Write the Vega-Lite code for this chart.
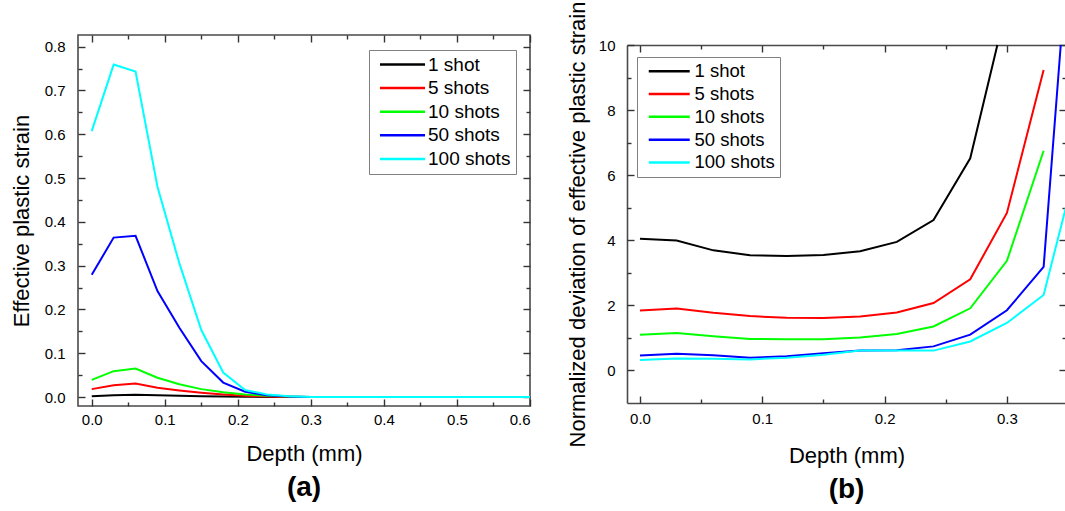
{
  "$schema": "https://vega.github.io/schema/vega-lite/v6.json",
  "padding": {"left": 9, "top": 1, "right": 0, "bottom": 0},
  "spacing": 34,
  "datasets": {
    "a": [
      {"d":0,"s":"1 shot","v":0.002},{"d":0.03,"s":"1 shot","v":0.004},{"d":0.06,"s":"1 shot","v":0.005},{"d":0.09,"s":"1 shot","v":0.004},{"d":0.12,"s":"1 shot","v":0.003},{"d":0.15,"s":"1 shot","v":0.002},{"d":0.18,"s":"1 shot","v":0.001},{"d":0.21,"s":"1 shot","v":0.0005},{"d":0.24,"s":"1 shot","v":0.0002},{"d":0.27,"s":"1 shot","v":0},{"d":0.3,"s":"1 shot","v":0},{"d":0.33,"s":"1 shot","v":0},{"d":0.36,"s":"1 shot","v":0},{"d":0.39,"s":"1 shot","v":0},{"d":0.42,"s":"1 shot","v":0},{"d":0.45,"s":"1 shot","v":0},{"d":0.48,"s":"1 shot","v":0},{"d":0.51,"s":"1 shot","v":0},{"d":0.54,"s":"1 shot","v":0},{"d":0.57,"s":"1 shot","v":0},{"d":0.6,"s":"1 shot","v":0},
      {"d":0,"s":"5 shots","v":0.018},{"d":0.03,"s":"5 shots","v":0.027},{"d":0.06,"s":"5 shots","v":0.031},{"d":0.09,"s":"5 shots","v":0.021},{"d":0.12,"s":"5 shots","v":0.015},{"d":0.15,"s":"5 shots","v":0.01},{"d":0.18,"s":"5 shots","v":0.006},{"d":0.21,"s":"5 shots","v":0.003},{"d":0.24,"s":"5 shots","v":0.001},{"d":0.27,"s":"5 shots","v":0.0003},{"d":0.3,"s":"5 shots","v":0},{"d":0.33,"s":"5 shots","v":0},{"d":0.36,"s":"5 shots","v":0},{"d":0.39,"s":"5 shots","v":0},{"d":0.42,"s":"5 shots","v":0},{"d":0.45,"s":"5 shots","v":0},{"d":0.48,"s":"5 shots","v":0},{"d":0.51,"s":"5 shots","v":0},{"d":0.54,"s":"5 shots","v":0},{"d":0.57,"s":"5 shots","v":0},{"d":0.6,"s":"5 shots","v":0},
      {"d":0,"s":"10 shots","v":0.039},{"d":0.03,"s":"10 shots","v":0.059},{"d":0.06,"s":"10 shots","v":0.065},{"d":0.09,"s":"10 shots","v":0.044},{"d":0.12,"s":"10 shots","v":0.029},{"d":0.15,"s":"10 shots","v":0.018},{"d":0.18,"s":"10 shots","v":0.011},{"d":0.21,"s":"10 shots","v":0.006},{"d":0.24,"s":"10 shots","v":0.003},{"d":0.27,"s":"10 shots","v":0.001},{"d":0.3,"s":"10 shots","v":0},{"d":0.33,"s":"10 shots","v":0},{"d":0.36,"s":"10 shots","v":0},{"d":0.39,"s":"10 shots","v":0},{"d":0.42,"s":"10 shots","v":0},{"d":0.45,"s":"10 shots","v":0},{"d":0.48,"s":"10 shots","v":0},{"d":0.51,"s":"10 shots","v":0},{"d":0.54,"s":"10 shots","v":0},{"d":0.57,"s":"10 shots","v":0},{"d":0.6,"s":"10 shots","v":0},
      {"d":0,"s":"50 shots","v":0.279},{"d":0.03,"s":"50 shots","v":0.364},{"d":0.06,"s":"50 shots","v":0.368},{"d":0.09,"s":"50 shots","v":0.242},{"d":0.12,"s":"50 shots","v":0.158},{"d":0.15,"s":"50 shots","v":0.082},{"d":0.18,"s":"50 shots","v":0.033},{"d":0.21,"s":"50 shots","v":0.012},{"d":0.24,"s":"50 shots","v":0.004},{"d":0.27,"s":"50 shots","v":0.001},{"d":0.3,"s":"50 shots","v":0},{"d":0.33,"s":"50 shots","v":0},{"d":0.36,"s":"50 shots","v":0},{"d":0.39,"s":"50 shots","v":0},{"d":0.42,"s":"50 shots","v":0},{"d":0.45,"s":"50 shots","v":0},{"d":0.48,"s":"50 shots","v":0},{"d":0.51,"s":"50 shots","v":0},{"d":0.54,"s":"50 shots","v":0},{"d":0.57,"s":"50 shots","v":0},{"d":0.6,"s":"50 shots","v":0},
      {"d":0,"s":"100 shots","v":0.607},{"d":0.03,"s":"100 shots","v":0.759},{"d":0.06,"s":"100 shots","v":0.743},{"d":0.09,"s":"100 shots","v":0.48},{"d":0.12,"s":"100 shots","v":0.305},{"d":0.15,"s":"100 shots","v":0.153},{"d":0.18,"s":"100 shots","v":0.056},{"d":0.21,"s":"100 shots","v":0.016},{"d":0.24,"s":"100 shots","v":0.006},{"d":0.27,"s":"100 shots","v":0.002},{"d":0.3,"s":"100 shots","v":0},{"d":0.33,"s":"100 shots","v":0},{"d":0.36,"s":"100 shots","v":0},{"d":0.39,"s":"100 shots","v":0},{"d":0.42,"s":"100 shots","v":0},{"d":0.45,"s":"100 shots","v":0},{"d":0.48,"s":"100 shots","v":0},{"d":0.51,"s":"100 shots","v":0},{"d":0.54,"s":"100 shots","v":0},{"d":0.57,"s":"100 shots","v":0},{"d":0.6,"s":"100 shots","v":0}
    ],
    "b": [
      {"d":0,"s":"1 shot","v":4.05},{"d":0.03,"s":"1 shot","v":3.99},{"d":0.06,"s":"1 shot","v":3.69},{"d":0.09,"s":"1 shot","v":3.54},{"d":0.12,"s":"1 shot","v":3.52},{"d":0.15,"s":"1 shot","v":3.55},{"d":0.18,"s":"1 shot","v":3.66},{"d":0.21,"s":"1 shot","v":3.95},{"d":0.24,"s":"1 shot","v":4.62},{"d":0.27,"s":"1 shot","v":6.52},{"d":0.2922,"s":"1 shot","v":10},
      {"d":0,"s":"5 shots","v":1.84},{"d":0.03,"s":"5 shots","v":1.9},{"d":0.06,"s":"5 shots","v":1.77},{"d":0.09,"s":"5 shots","v":1.67},{"d":0.12,"s":"5 shots","v":1.62},{"d":0.15,"s":"5 shots","v":1.61},{"d":0.18,"s":"5 shots","v":1.66},{"d":0.21,"s":"5 shots","v":1.78},{"d":0.24,"s":"5 shots","v":2.07},{"d":0.27,"s":"5 shots","v":2.8},{"d":0.3,"s":"5 shots","v":4.84},{"d":0.33,"s":"5 shots","v":9.23},
      {"d":0,"s":"10 shots","v":1.1},{"d":0.03,"s":"10 shots","v":1.15},{"d":0.06,"s":"10 shots","v":1.05},{"d":0.09,"s":"10 shots","v":0.97},{"d":0.12,"s":"10 shots","v":0.96},{"d":0.15,"s":"10 shots","v":0.96},{"d":0.18,"s":"10 shots","v":1.01},{"d":0.21,"s":"10 shots","v":1.12},{"d":0.24,"s":"10 shots","v":1.35},{"d":0.27,"s":"10 shots","v":1.91},{"d":0.3,"s":"10 shots","v":3.37},{"d":0.33,"s":"10 shots","v":6.75},
      {"d":0,"s":"50 shots","v":0.46},{"d":0.03,"s":"50 shots","v":0.51},{"d":0.06,"s":"50 shots","v":0.47},{"d":0.09,"s":"50 shots","v":0.39},{"d":0.12,"s":"50 shots","v":0.44},{"d":0.15,"s":"50 shots","v":0.53},{"d":0.18,"s":"50 shots","v":0.61},{"d":0.21,"s":"50 shots","v":0.62},{"d":0.24,"s":"50 shots","v":0.74},{"d":0.27,"s":"50 shots","v":1.1},{"d":0.3,"s":"50 shots","v":1.85},{"d":0.33,"s":"50 shots","v":3.18},{"d":0.344,"s":"50 shots","v":10},
      {"d":0,"s":"100 shots","v":0.32},{"d":0.03,"s":"100 shots","v":0.37},{"d":0.06,"s":"100 shots","v":0.36},{"d":0.09,"s":"100 shots","v":0.34},{"d":0.12,"s":"100 shots","v":0.39},{"d":0.15,"s":"100 shots","v":0.48},{"d":0.18,"s":"100 shots","v":0.61},{"d":0.21,"s":"100 shots","v":0.61},{"d":0.24,"s":"100 shots","v":0.61},{"d":0.27,"s":"100 shots","v":0.89},{"d":0.3,"s":"100 shots","v":1.46},{"d":0.33,"s":"100 shots","v":2.32},{"d":0.36,"s":"100 shots","v":6.75}
    ]
  },
  "config": {
    "font": "Liberation Sans",
    "view": {"stroke": "#4a4a4a", "strokeWidth": 1.6},
    "axis": {"grid": false, "labelColor": "#000000", "titleColor": "#000000", "tickColor": "#333333", "tickWidth": 1.4, "domainColor": "#4a4a4a", "domainWidth": 1.6, "labelFontSize": 15, "titleFontSize": 22, "titleFontWeight": "normal", "labelFont": "Liberation Sans", "titleFont": "Liberation Sans"},
    "legend": {"labelFont": "Liberation Sans", "labelColor": "#000000"},
    "title": {"font": "Liberation Sans", "color": "#000000"}
  },
  "resolve": {"scale": {"color": "independent"}, "legend": {"color": "independent"}},
  "hconcat": [
    {
      "width": 452,
      "height": 371,
      "data": {"name": "a"},
      "title": {"text": "(a)", "orient": "bottom", "fontSize": 28, "fontWeight": "bold", "offset": 10},
      "resolve": {"axis": {"x": "independent", "y": "independent"}},
      "layer": [
        {
          "mark": {"type": "line", "strokeWidth": 2, "clip": true},
          "encoding": {
            "x": {"field": "d", "type": "quantitative", "scale": {"domain": [-0.0188, 0.6], "nice": false, "zero": false},
              "axis": {"orient": "bottom", "values": [0, 0.1, 0.2, 0.3, 0.4, 0.5, 0.6], "format": ".1f", "ticks": false, "domain": false, "labelFontSize": 15, "labelPadding": 6, "title": "Depth (mm)", "titlePadding": 16}},
            "y": {"field": "v", "type": "quantitative", "scale": {"domain": [-0.0205, 0.8265], "nice": false, "zero": false},
              "axis": {"orient": "left", "values": [0, 0.1, 0.2, 0.3, 0.4, 0.5, 0.6, 0.7, 0.8], "format": ".1f", "ticks": false, "domain": false, "labelFontSize": 15, "labelPadding": 13, "title": "Effective plastic strain", "titlePadding": 11}},
            "color": {"field": "s", "type": "nominal",
              "scale": {"domain": ["1 shot", "5 shots", "10 shots", "50 shots", "100 shots"], "range": ["#000000", "#ff0000", "#00ff00", "#0000ff", "#00ffff"]},
              "legend": {"orient": "none", "legendX": 291, "legendY": 15, "title": null, "labelFontSize": 19, "symbolType": "M-4,0H4", "symbolSize": 127, "symbolStrokeWidth": 2.5, "rowPadding": 3.6, "padding": 5, "strokeColor": "#808080", "fillColor": "#ffffff", "symbolOffset": 19, "labelOffset": 16}}
          }
        },
        {
          "mark": {"type": "point", "opacity": 0, "clip": true},
          "encoding": {
            "x": {"field": "d", "type": "quantitative", "axis": {"orient": "bottom", "values": [0, 0.1, 0.2, 0.3, 0.4, 0.5, 0.6], "tickSize": -7, "labels": false, "domain": false, "title": null}},
            "y": {"field": "v", "type": "quantitative", "axis": {"orient": "left", "values": [0, 0.1, 0.2, 0.3, 0.4, 0.5, 0.6, 0.7, 0.8], "tickSize": -7, "labels": false, "domain": false, "title": null}}
          }
        },
        {
          "mark": {"type": "point", "opacity": 0, "clip": true},
          "encoding": {
            "x": {"field": "d", "type": "quantitative", "axis": {"orient": "bottom", "values": [0.05, 0.15, 0.25, 0.35, 0.45, 0.55], "tickSize": -4, "labels": false, "domain": false, "title": null}},
            "y": {"field": "v", "type": "quantitative", "axis": {"orient": "left", "values": [0.05, 0.15, 0.25, 0.35, 0.45, 0.55, 0.65, 0.75], "tickSize": -4, "labels": false, "domain": false, "title": null}}
          }
        },
        {
          "mark": {"type": "point", "opacity": 0, "clip": true},
          "encoding": {
            "x": {"field": "d", "type": "quantitative", "axis": {"orient": "top", "values": [0, 0.1, 0.2, 0.3, 0.4, 0.5, 0.6], "tickSize": -7, "labels": false, "domain": false, "title": null}},
            "y": {"field": "v", "type": "quantitative", "axis": {"orient": "right", "values": [0, 0.1, 0.2, 0.3, 0.4, 0.5, 0.6, 0.7, 0.8], "tickSize": -7, "labels": false, "domain": false, "title": null}}
          }
        },
        {
          "mark": {"type": "point", "opacity": 0, "clip": true},
          "encoding": {
            "x": {"field": "d", "type": "quantitative", "axis": {"orient": "top", "values": [0.05, 0.15, 0.25, 0.35, 0.45, 0.55], "tickSize": -4, "labels": false, "domain": false, "title": null}},
            "y": {"field": "v", "type": "quantitative", "axis": {"orient": "right", "values": [0.05, 0.15, 0.25, 0.35, 0.45, 0.55, 0.65, 0.75], "tickSize": -4, "labels": false, "domain": false, "title": null}}
          }
        }
      ]
    },
    {
      "width": 439,
      "height": 368,
      "view": {"stroke": null},
      "data": {"name": "b"},
      "title": {"text": "(b)", "orient": "bottom", "fontSize": 28, "fontWeight": "bold", "offset": 10},
      "resolve": {"axis": {"x": "independent", "y": "independent"}},
      "layer": [
        {
          "mark": {"type": "line", "strokeWidth": 2, "clip": true},
          "encoding": {
            "x": {"field": "d", "type": "quantitative", "scale": {"domain": [-0.0106, 0.3483], "nice": false, "zero": false},
              "axis": {"orient": "bottom", "values": [0, 0.1, 0.2, 0.3], "format": ".1f", "ticks": false, "domain": true, "labelFontSize": 15, "labelPadding": 8, "title": "Depth (mm)", "titlePadding": 19}},
            "y": {"field": "v", "type": "quantitative", "scale": {"domain": [-1, 10], "range": [368, 10], "nice": false, "zero": false},
              "axis": {"orient": "left", "values": [0, 2, 4, 6, 8, 10], "format": "d", "ticks": false, "domain": true, "labelFontSize": 15, "labelPadding": 12, "title": "Normalized deviation of effective plastic strain", "titlePadding": 9}},
            "color": {"field": "s", "type": "nominal",
              "scale": {"domain": ["1 shot", "5 shots", "10 shots", "50 shots", "100 shots"], "range": ["#000000", "#ff0000", "#00ff00", "#0000ff", "#00ffff"]},
              "legend": {"orient": "none", "legendX": 10, "legendY": 22, "title": null, "labelFontSize": 18.5, "symbolType": "M-4,0H4", "symbolSize": 105, "symbolStrokeWidth": 2.5, "rowPadding": 3.8, "padding": 5, "strokeColor": "#808080", "fillColor": "#ffffff", "symbolOffset": 18, "labelOffset": 16}}
          }
        },
        {
          "mark": {"type": "point", "opacity": 0, "clip": true},
          "encoding": {
            "x": {"field": "d", "type": "quantitative", "axis": {"orient": "bottom", "values": [0, 0.1, 0.2, 0.3], "tickSize": -7, "labels": false, "domain": false, "title": null}},
            "y": {"field": "v", "type": "quantitative", "axis": {"orient": "left", "values": [0, 2, 4, 6, 8, 10], "tickSize": -7, "labels": false, "domain": false, "title": null}}
          }
        },
        {
          "mark": {"type": "point", "opacity": 0, "clip": true},
          "encoding": {
            "x": {"field": "d", "type": "quantitative", "axis": {"orient": "bottom", "values": [0.05, 0.15, 0.25], "tickSize": -4, "labels": false, "domain": false, "title": null}},
            "y": {"field": "v", "type": "quantitative", "axis": {"orient": "left", "values": [1, 3, 5, 7, 9], "tickSize": -4, "labels": false, "domain": false, "title": null}}
          }
        },
        {
          "mark": {"type": "point", "opacity": 0, "clip": true},
          "encoding": {
            "x": {"field": "d", "type": "quantitative", "axis": {"orient": "top", "offset": -10, "values": [0, 0.1, 0.2, 0.3], "tickSize": -7, "labels": false, "domain": true, "title": null}},
            "y": {"field": "v", "type": "quantitative", "axis": {"orient": "right", "values": [0, 2, 4, 6, 8, 10], "tickSize": -7, "labels": false, "domain": true, "title": null}}
          }
        },
        {
          "mark": {"type": "point", "opacity": 0, "clip": true},
          "encoding": {
            "x": {"field": "d", "type": "quantitative", "axis": {"orient": "top", "offset": -10, "values": [0.05, 0.15, 0.25], "tickSize": -4, "labels": false, "domain": false, "title": null}},
            "y": {"field": "v", "type": "quantitative", "axis": {"orient": "right", "values": [1, 3, 5, 7, 9], "tickSize": -4, "labels": false, "domain": false, "title": null}}
          }
        }
      ]
    }
  ]
}
